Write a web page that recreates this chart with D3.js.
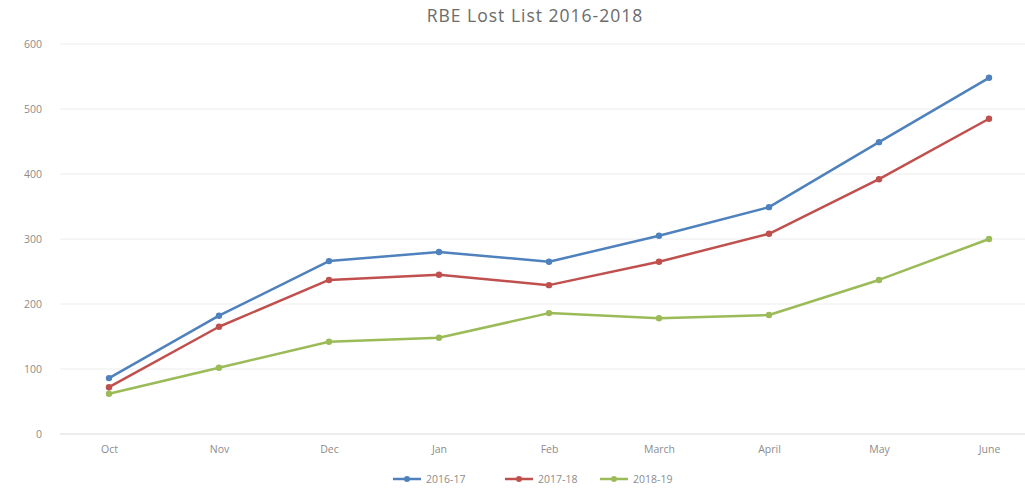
<!DOCTYPE html>
<html><head><meta charset="utf-8">
<script src="https://cdn.jsdelivr.net/npm/d3@7"></script>
<style>body{margin:0;background:#fff}svg{display:block}</style>
</head><body>
<script>
const months = ["Oct","Nov","Dec","Jan","Feb","March","April","May","June"];
const s1617 = [86,182,266,280,265,305,349,449,548];
const s1718 = [72,165,237,245,229,265,308,392,485];
const s1819 = [62,102,142,148,186,178,183,237,300];
const seriesNames = ["2016-17","2017-18","2018-19"];
const seriesColors = ["#4F81BD","#C0504D","#9BBB59"];
const yTicks = [0,100,200,300,400,500,600];

const W=1025,H=489;
const FONT="Open Sans, sans-serif";
const svg=d3.select("body").append("svg").attr("width",W).attr("height",H);
const x=d3.scalePoint().domain(months).range([109,989]);
const y=d3.scaleLinear().domain([0,600]).range([434,44]);

// gridlines
svg.append("g").selectAll("line").data(yTicks.filter(d=>d>0)).join("line")
  .attr("x1",60).attr("x2",W).attr("y1",d=>y(d)).attr("y2",d=>y(d))
  .attr("stroke","#ececec").attr("stroke-width",1);
// baseline
svg.append("line").attr("x1",60).attr("x2",W).attr("y1",y(0)).attr("y2",y(0))
  .attr("stroke","#d9d9d9").attr("stroke-width",1);

// y axis labels
const yAxis=d3.axisLeft(y).tickValues(yTicks).tickSize(0).tickPadding(0);
const ga=svg.append("g").attr("transform","translate(42,0)").call(yAxis);
ga.select(".domain").remove();
ga.selectAll("text").attr("font-family",FONT).attr("font-size",10.5).attr("fill","#8c8c8c");

// x axis labels
const xAxis=d3.axisBottom(x).tickSize(0).tickPadding(0);
const gx=svg.append("g").attr("transform","translate(0,453)").call(xAxis);
gx.select(".domain").remove();
gx.selectAll("text").attr("font-family",FONT).attr("font-size",10.5).attr("fill","#8c8c8c").attr("dy","0");

// title
svg.append("text").attr("x",535).attr("y",22).attr("text-anchor","middle")
  .attr("font-family",FONT).attr("font-size",17.5).attr("letter-spacing",1).attr("fill","#6b6b6b")
  .text("RBE Lost List 2016-2018");

const data=[s1617,s1718,s1819];
const line=d3.line().x((d,i)=>x(months[i])).y(d=>y(d));
[2,1,0].forEach(k=>{
  const g=svg.append("g");
  g.append("path").datum(data[k]).attr("d",line).attr("fill","none")
    .attr("stroke",seriesColors[k]).attr("stroke-width",2.5).attr("stroke-linejoin","round");
  g.selectAll("circle").data(data[k]).join("circle")
    .attr("cx",(d,i)=>x(months[i])).attr("cy",d=>y(d)).attr("r",3.2).attr("fill",seriesColors[k]);
});

// legend
const legX=[393,505,600];
seriesNames.forEach((n,k)=>{
  const g=svg.append("g").attr("transform",`translate(${legX[k]},479)`);
  g.append("line").attr("x1",0).attr("x2",28).attr("stroke",seriesColors[k]).attr("stroke-width",2.5);
  g.append("circle").attr("cx",14).attr("r",3).attr("fill",seriesColors[k]);
  g.append("text").attr("x",33).attr("dy","0.35em").attr("font-family",FONT)
    .attr("font-size",10.5).attr("fill","#8c8c8c").text(n);
});
</script>
</body></html>
